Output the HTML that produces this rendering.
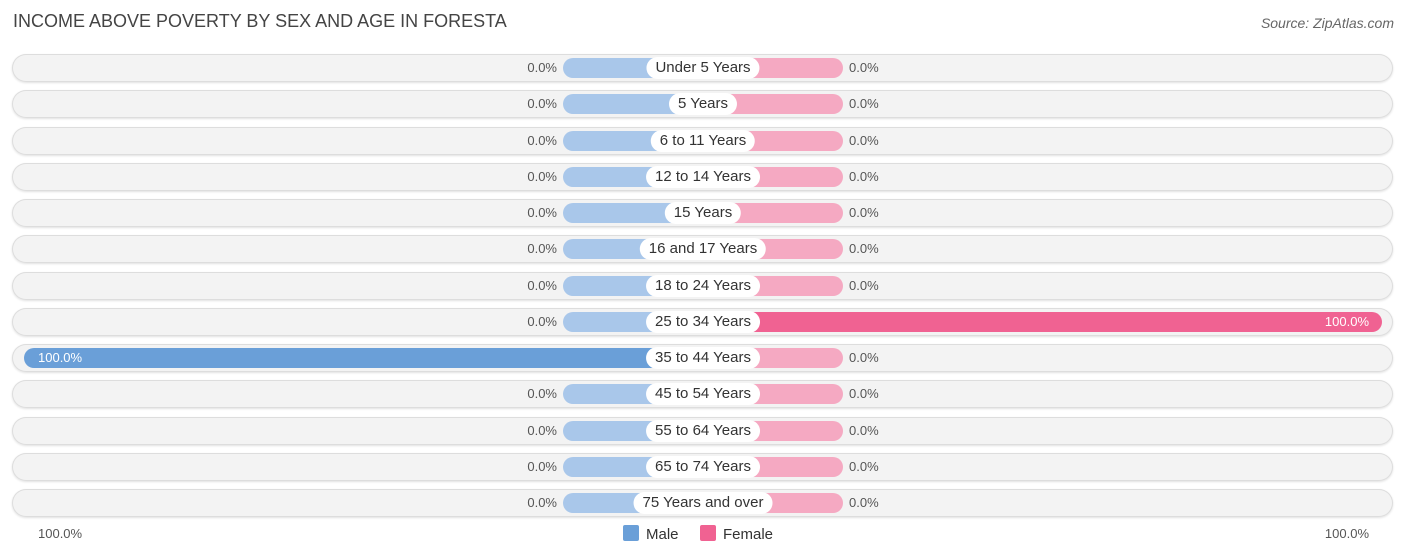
<!DOCTYPE html>
<html><head><meta charset="utf-8"><style>
body{margin:0;width:1406px;height:559px;background:#fff;font-family:"Liberation Sans",sans-serif;overflow:hidden;position:relative}
.t{position:absolute;left:13px;top:11px;font-size:18px;color:#444}
.src{position:absolute;right:12px;top:15px;font-size:14px;color:#666;font-style:italic}
.rowbg{position:absolute;left:12px;width:1381px;height:28px;border-radius:14px;background:#f3f3f3;box-shadow:0 0 0 1px #ddd inset,0 1px 2px rgba(0,0,0,.12)}
.bar{position:absolute;height:20px;border-radius:10px}
.lab{position:absolute;height:22px;line-height:22px;padding:0 9px;border-radius:11px;background:#fff;font-size:15px;color:#333;transform:translateX(-50%);white-space:nowrap}
.val{position:absolute;font-size:13px;color:#555;line-height:20px}
.ax{position:absolute;top:526px;font-size:13px;color:#555}
.lg{position:absolute;top:525px;font-size:15px;color:#333}
.sw{display:inline-block;width:16px;height:16px;border-radius:2px;vertical-align:-2px;margin-right:7px}
</style></head><body>
<div class="t">INCOME ABOVE POVERTY BY SEX AND AGE IN FORESTA</div>
<div class="src">Source: ZipAtlas.com</div>
<div id="chart"></div>
<div class="ax" style="left:38px">100.0%</div>
<div class="ax" style="right:37px">100.0%</div>
<div class="lg" style="left:623px"><span class="sw" style="background:#6a9fd8"></span>Male</div>
<div class="lg" style="left:700px"><span class="sw" style="background:#f06292"></span>Female</div>
<script>
const categories=["Under 5 Years","5 Years","6 to 11 Years","12 to 14 Years","15 Years","16 and 17 Years","18 to 24 Years","25 to 34 Years","35 to 44 Years","45 to 54 Years","55 to 64 Years","65 to 74 Years","75 Years and over"];
const maleValues=[0,0,0,0,0,0,0,0,100,0,0,0,0];
const femaleValues=[0,0,0,0,0,0,0,100,0,0,0,0,0];
const cx=703,full=679,minW=140,y0=68,step=36.25;
const c=document.getElementById('chart');
function xs(v){return Math.max(minW,v/100*full);}
function mk(cls,css,txt){const d=document.createElement('div');d.className=cls;d.style.cssText=css;if(txt!==undefined)d.textContent=txt;c.appendChild(d);return d;}
categories.forEach((cat,i)=>{
  const yc=y0+i*step;
  const bg=mk('rowbg','top:'+(yc-14)+'px');
  
  
  const m=maleValues[i],f=femaleValues[i];
  const mw=xs(m),fw=xs(f);
  const mb=mk('bar','top:'+(yc-10)+'px;left:'+(cx-mw)+'px;width:'+mw+'px;background:'+(m>0?'#6a9fd8':'#a9c7ea'));
  
  
  const fb=mk('bar','top:'+(yc-10)+'px;left:'+cx+'px;width:'+fw+'px;background:'+(f>0?'#f06292':'#f5a9c2'));
  
  
  const l=mk('lab','top:'+(yc-11)+'px;left:'+cx+'px',cat);
  
  
  const mt=m.toFixed(1)+'%',ft=f.toFixed(1)+'%';
  let mv,fv;
  if(m>0){mv=mk('val','top:'+(yc-10)+'px;left:'+(cx-mw+14)+'px;color:#fff',mt);}
  else{mv=mk('val','top:'+(yc-10)+'px;right:'+(1406-(cx-mw)+6)+'px',mt);}
  
  
  if(f>0){fv=mk('val','top:'+(yc-10)+'px;right:'+(1406-(cx+fw)+13)+'px;color:#fff',ft);}
  else{fv=mk('val','top:'+(yc-10)+'px;left:'+(cx+fw+6)+'px',ft);}
  
  
});
</script>
</body></html>
